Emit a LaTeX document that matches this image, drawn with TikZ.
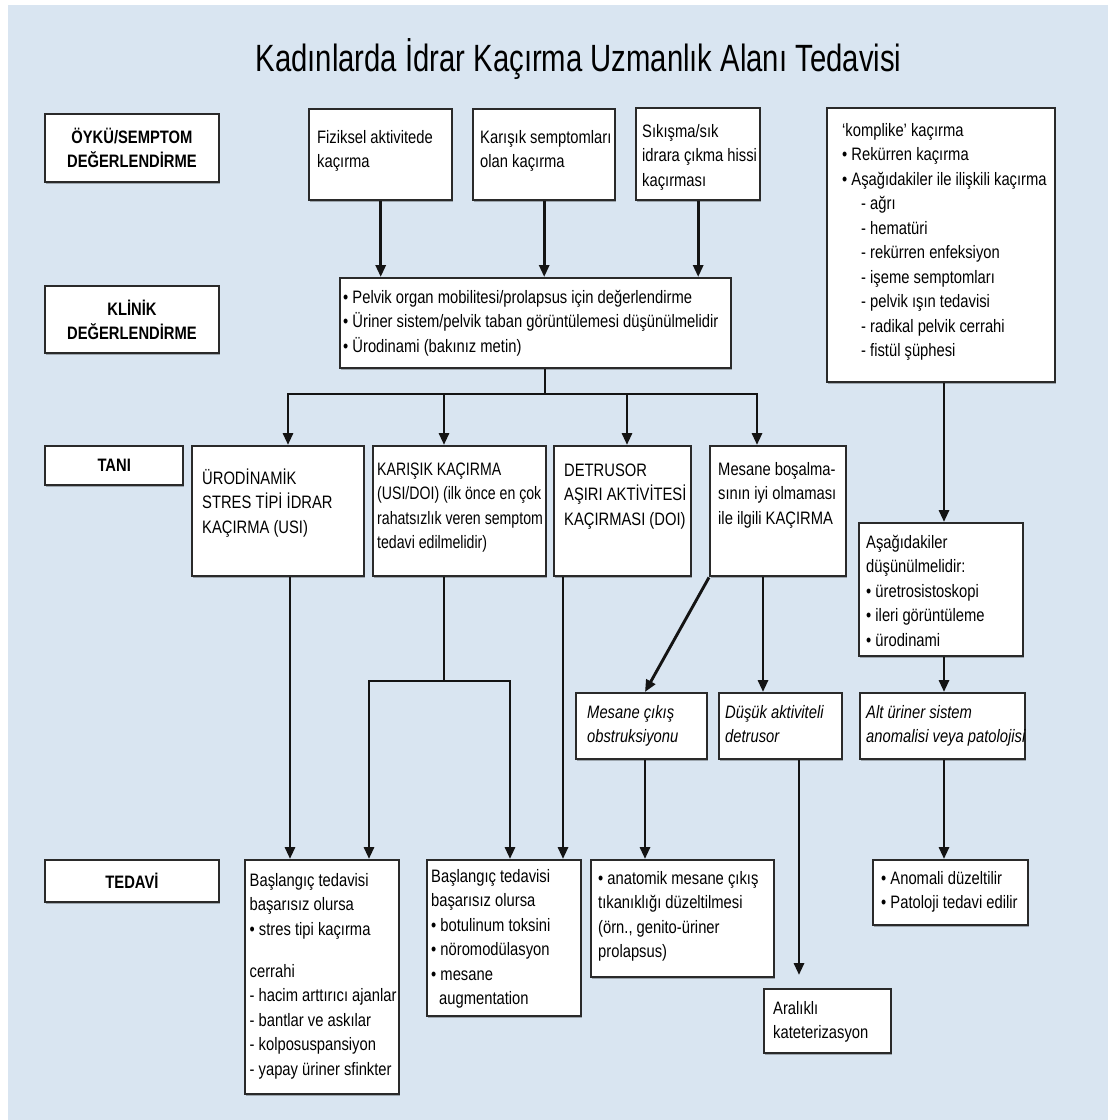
\documentclass[tikz,border=0pt]{standalone}
\usepackage{fontspec}
\setmainfont[FakeStretch=0.82]{Liberation Sans}
\newfontfamily\titlefont[FakeStretch=0.77]{Liberation Sans}
\newfontfamily\tightfont[FakeStretch=0.785]{Liberation Sans}
\usetikzlibrary{arrows.meta,shadows}
\definecolor{bgblue}{HTML}{D9E5F1}
\definecolor{ink}{HTML}{141414}
\definecolor{edge}{HTML}{2A2A2A}
% #1 width, #2 height, #3 left padding, #4 top-to-first-baseline, #5 text
\newcommand\bxtext[5]{\parbox[t][#2pt][t]{#1pt}{\leftskip=#3pt\rightskip=-300pt plus 1fil\relax\rule{0pt}{#4pt}#5}}
\begin{document}
\begin{tikzpicture}[x=1pt,y=-1pt,
  shd/.style={drop shadow={shadow xshift=1.2pt, shadow yshift=-1.4pt, fill=black, opacity=0.28}},
  bx/.style={shd, draw=edge, fill=white, line width=2.4pt, inner sep=0pt, anchor=north west, font=\fontsize{18}{24.5}\selectfont},
  lbl/.style={shd, draw=edge, fill=white, line width=2.4pt, inner sep=0pt, anchor=north west, align=center, font=\bfseries\fontsize{18}{24}\selectfont},
  arr/.style={draw=ink, line width=2.9pt, -{Triangle[length=12pt,width=10pt]}},
  ln/.style={draw=ink, line width=2.9pt},
  arrtwo/.style={draw=ink, line width=2.9pt, {Triangle[length=12pt,width=10pt]}-{Triangle[length=12pt,width=10pt]}}
]
\useasboundingbox (0,0) rectangle (1118,1120);
\fill[white] (0,0) rectangle (1118,1120);
\fill[bgblue] (8,5) rectangle (1108,1120);

\node[anchor=base, font=\titlefont\fontsize{38}{40}\selectfont, inner sep=0pt] (title) at (578.5,71) {Kadınlarda İdrar Kaçırma Uzmanlık Alanı Tedavisi};

% row labels
\node[lbl, minimum width=173.5pt, minimum height=68pt] (histL) at (44,113) {ÖYKÜ/SEMPTOM\\DEĞERLENDİRME};
\node[lbl, minimum width=173.5pt, minimum height=67pt] (clinL) at (44,285) {KLİNİK\\DEĞERLENDİRME};
\node[lbl, minimum width=138pt, minimum height=39pt] (taniL) at (44,445) {TANI};
\node[lbl, minimum width=173.5pt, minimum height=42pt] (tedL) at (44,859) {TEDAVİ};

% history row
\node[bx] (fiz) at (308,108) {\bxtext{143}{91}{8}{34}{Fiziksel aktivitede\\kaçırma}};
\node[bx] (kar) at (472,108) {\bxtext{142}{91}{7}{34}{Karışık semptomları\\olan kaçırma}};
\node[bx] (sik) at (635,107) {\bxtext{124}{92}{6}{29}{Sıkışma/sık\\idrara çıkma hissi\\kaçırması}};
\node[bx] (komp) at (826,107) {\bxtext{228}{274}{15}{28}{‘komplike’ kaçırma\\• Rekürren kaçırma\\• Aşağıdakiler ile ilişkili kaçırma\\\hspace*{19pt}- ağrı\\\hspace*{19pt}- hematüri\\\hspace*{19pt}- rekürren enfeksiyon\\\hspace*{19pt}- işeme semptomları\\\hspace*{19pt}- pelvik ışın tedavisi\\\hspace*{19pt}- radikal pelvik cerrahi\\\hspace*{19pt}- fistül şüphesi}};

% clinical
\node[bx] (clin) at (339,277) {\bxtext{391}{90}{3}{25}{• Pelvik organ mobilitesi/prolapsus için değerlendirme\\• Üriner sistem/pelvik taban görüntülemesi düşünülmelidir\\• Ürodinami (bakınız metin)}};

% diagnosis
\node[bx] (uro) at (191,445) {\bxtext{172}{130}{10}{38}{ÜRODİNAMİK\\STRES TİPİ İDRAR\\KAÇIRMA (USI)}};
\node[bx] (mix) at (372,445) {\bxtext{173}{130}{4}{29}{\tightfont KARIŞIK KAÇIRMA\\(USI/DOI) (ilk önce en çok\\rahatsızlık veren semptom\\tedavi edilmelidir)}};
\node[bx] (det) at (553,445) {\bxtext{137}{130}{10}{30}{DETRUSOR\\AŞIRI AKTİVİTESİ\\KAÇIRMASI (DOI)}};
\node[bx] (mes) at (709,445) {\bxtext{136}{130}{8}{29}{Mesane boşalma-\\sının iyi olmaması\\ile ilgili KAÇIRMA}};
\node[bx] (asag) at (858,522) {\bxtext{164}{133}{7}{25}{Aşağıdakiler\\düşünülmelidir:\\• üretrosistoskopi\\• ileri görüntüleme\\• ürodinami}};

% second diagnosis row
\node[bx] (moo) at (575,692) {\bxtext{131}{66}{11}{25}{\itshape Mesane çıkış\\obstruksiyonu}};
\node[bx] (dus) at (718,692) {\bxtext{123}{66}{6}{25}{\itshape Düşük aktiviteli\\detrusor}};
\node[bx] (alt) at (859,692) {\bxtext{165}{66}{6}{25}{\itshape Alt üriner sistem\\anomalisi veya patolojisi}};

% treatment
\node[bx] (t1) at (244,859) {\bxtext{154}{234}{4.5}{26}{Başlangıç tedavisi\\başarısız olursa\\• stres tipi kaçırma\\[17.5pt]cerrahi\\- hacim arttırıcı ajanlar\\- bantlar ve askılar\\- kolposuspansiyon\\- yapay üriner sfinkter}};
\node[bx] (t2) at (426,859) {\bxtext{154}{156}{4}{22}{Başlangıç tedavisi\\başarısız olursa\\• botulinum toksini\\• nöromodülasyon\\• mesane\\\hspace*{8pt}augmentation}};
\node[bx] (anat) at (590,859) {\bxtext{183}{117}{7}{24}{• anatomik mesane çıkış\\tıkanıklığı düzeltilmesi\\(örn., genito-üriner\\prolapsus)}};
\node[bx] (ara) at (763,988) {\bxtext{127}{64}{9}{25}{Aralıklı\\kateterizasyon}};
\node[bx] (anom) at (872,859) {\bxtext{155}{65}{8}{24}{• Anomali düzeltilir\\• Patoloji tedavi edilir}};

% junction coordinates
\coordinate (bL) at (288,394);
\coordinate (bM1) at (444,394);
\coordinate (bC) at (545,394);
\coordinate (bM2) at (627,394);
\coordinate (bR) at (757,394);
\coordinate (sp) at (444,681);
\coordinate (spL) at (369,681);
\coordinate (spR) at (510,681);
\coordinate (xU) at (290,0);
\coordinate (xD) at (563,0);
\coordinate (xM) at (645,0);
\coordinate (xV1) at (763,0);
\coordinate (xV2) at (799,0);
\coordinate (xK) at (944,0);

% connectors
\draw[arr] (fiz.south) -- (fiz.south |- clin.north);
\draw[arr] (kar.south) -- (kar.south |- clin.north);
\draw[arr] (sik.south) -- (sik.south |- clin.north);
\draw[ln] (clin.south -| bC) -- (bC);
\draw[arrtwo] (bL |- uro.north) -- (bL) -- (bR) -- (bR |- mes.north);
\draw[arr] (bM1) -- (bM1 |- mix.north);
\draw[arr] (bM2) -- (bM2 |- det.north);
\draw[arr] (uro.south -| xU) -- (t1.north -| xU);
\draw[ln] (mix.south -| sp) -- (sp);
\draw[arrtwo] (t1.north -| spL) -- (spL) -- (spR) -- (t2.north -| spR);
\draw[arr] (det.south -| xD) -- (t2.north -| xD);
\draw[arr] (mes.south west) -- (moo.north -| xM);
\draw[arr] (mes.south -| xV1) -- (dus.north -| xV1);
\draw[arr] (moo.south -| xM) -- (anat.north -| xM);
\draw[arr, shorten >=13pt] (dus.south -| xV2) -- (ara.north -| xV2);
\draw[arr] (komp.south -| xK) -- (asag.north -| xK);
\draw[arr] (asag.south -| xK) -- (alt.north -| xK);
\draw[arr] (alt.south -| xK) -- (anom.north -| xK);
\end{tikzpicture}
\end{document}
